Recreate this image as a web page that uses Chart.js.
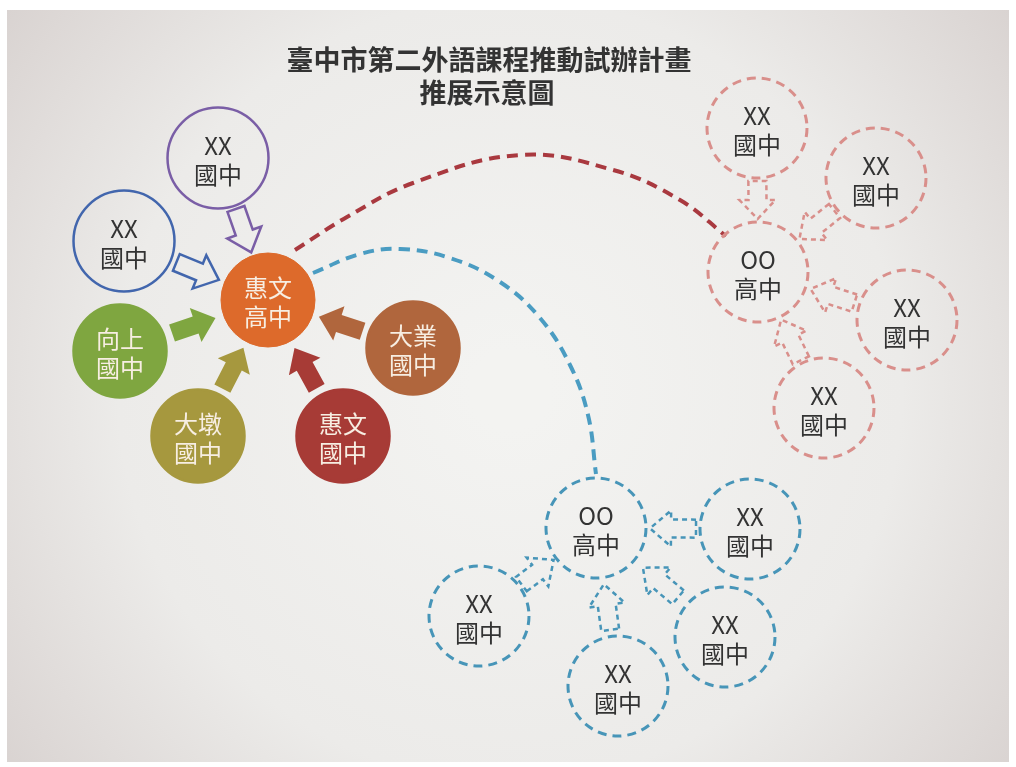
<!DOCTYPE html>
<html>
<head>
<meta charset="utf-8">
<script src="https://cdn.jsdelivr.net/npm/chart.js@4.4.1/dist/chart.umd.min.js"></script>
<style>
  html, body { margin: 0; padding: 0; background: #fff; }
  #wrap { width: 1016px; height: 767px; position: relative; }
</style>
</head>
<body>
<div id="wrap"><canvas id="chart"></canvas></div>
<script>
const titleLines = ['臺中市第二外語課程推動試辦計畫', '推展示意圖'];

// 惠文高中 and the junior highs around it
const hubLabels = [['惠文', '高中']];
const hubX = [268];
const hubY = [300];
const partnerLabels = [['XX', '國中'], ['XX', '國中'], ['向上', '國中'], ['大墩', '國中'], ['惠文', '國中'], ['大業', '國中']];
const partnerX = [218, 124, 120, 198, 343, 413];
const partnerY = [158, 241, 351, 436, 436, 348];

// right group (first entry is the OO high school)
const redLabels = [['OO', '高中'], ['XX', '國中'], ['XX', '國中'], ['XX', '國中'], ['XX', '國中']];
const redX = [758, 757, 876, 907, 824];
const redY = [272, 128, 178, 320, 408];

// bottom group (first entry is the OO high school)
const blueLabels = [['OO', '高中'], ['XX', '國中'], ['XX', '國中'], ['XX', '國中'], ['XX', '國中']];
const blueX = [596, 750, 725, 618, 479];
const blueY = [528, 529, 637, 686, 616];

// dashed links out of 惠文高中
const redLinkX = [295, 347, 413, 520, 613, 680, 726];
const redLinkY = [250, 217, 183, 155, 170, 200, 236];
const blueLinkX = [313, 360, 400, 450, 500, 540, 570, 588, 596];
const blueLinkY = [273, 254, 249, 258, 282, 318, 365, 415, 474];

const FONT = '"Noto Sans CJK TC", "Noto Sans", sans-serif';
const CLEAR = 'rgba(0,0,0,0)';
const partnerColors = ['#7a5ea6', '#4266ad', '#7fa640', '#a6983e', '#a73b36', '#b0663d'];
const partnerFilled = [false, false, true, true, true, true];
const pink = '#d98f8b';
const teal = '#4795b8';

const pts = (xs, ys) => xs.map((x, i) => ({ x, y: ys[i] }));

// background photo look
const paper = {
  id: 'paper',
  beforeDraw(chart) {
    const ctx = chart.ctx;
    ctx.save();
    ctx.fillStyle = '#fff';
    ctx.fillRect(0, 0, chart.width, chart.height);
    const g = ctx.createRadialGradient(510, 390, 40, 510, 390, 680);
    g.addColorStop(0, '#f3f3f1');
    g.addColorStop(0.55, '#ecebe9');
    g.addColorStop(1, '#d5cecc');
    ctx.fillStyle = g;
    ctx.fillRect(7, 10, 1002, 752);
    ctx.fillStyle = '#333';
    ctx.font = 'bold 27px ' + FONT;
    ctx.textAlign = 'center';
    ctx.textBaseline = 'middle';
    ctx.fillText(titleLines[0], 489, 60);
    ctx.fillText(titleLines[1], 487, 93);
    ctx.restore();
  }
};

// dashed circle outlines
const dashes = {
  id: 'dashes',
  beforeDatasetDraw(chart, args) {
    chart.ctx.save();
    chart.ctx.setLineDash(args.meta._dataset.dash || []);
  },
  afterDatasetDraw(chart) {
    chart.ctx.restore();
  }
};

function blockArrow(ctx, x0, y0, x1, y1) {
  const dx = x1 - x0, dy = y1 - y0, len = Math.hypot(dx, dy);
  const ux = dx / len, uy = dy / len, nx = -uy, ny = ux;
  const hl = Math.min(21, len * 0.5), sw = 9, hw = 18;
  const bx = x1 - ux * hl, by = y1 - uy * hl;
  ctx.beginPath();
  ctx.moveTo(x0 + nx * sw, y0 + ny * sw);
  ctx.lineTo(bx + nx * sw, by + ny * sw);
  ctx.lineTo(bx + nx * hw, by + ny * hw);
  ctx.lineTo(x1, y1);
  ctx.lineTo(bx - nx * hw, by - ny * hw);
  ctx.lineTo(bx - nx * sw, by - ny * sw);
  ctx.lineTo(x0 - nx * sw, y0 - ny * sw);
  ctx.closePath();
}

// arrows from every school into its high school, placed in the gap between circles
const arrows = {
  id: 'arrows',
  afterDatasetsDraw(chart) {
    const ctx = chart.ctx;
    const links = [];
    const hub = chart.getDatasetMeta(0).data[0];
    chart.getDatasetMeta(1).data.forEach((p, i) => {
      links.push({ from: p, to: hub, color: partnerColors[i], fill: partnerFilled[i], dash: [] });
    });
    [[2, pink], [3, teal]].forEach(([di, col]) => {
      const els = chart.getDatasetMeta(di).data;
      els.slice(1).forEach(p => links.push({ from: p, to: els[0], color: col, fill: false, dash: [5, 4] }));
    });
    links.forEach(l => {
      const a = l.from, b = l.to;
      const rs = a.options.radius, rt = b.options.radius;
      const d = Math.hypot(b.x - a.x, b.y - a.y);
      const ux = (b.x - a.x) / d, uy = (b.y - a.y) / d;
      const gap = d - rs - rt;
      const L = Math.min(46, gap - 6);
      const m = rs + gap / 2;
      ctx.save();
      blockArrow(ctx, a.x + ux * (m - L / 2), a.y + uy * (m - L / 2), a.x + ux * (m + L / 2), a.y + uy * (m + L / 2));
      if (l.fill) {
        ctx.fillStyle = l.color;
        ctx.fill();
      } else {
        ctx.setLineDash(l.dash);
        ctx.lineJoin = 'miter';
        ctx.lineWidth = 2.5;
        ctx.strokeStyle = l.color;
        ctx.stroke();
      }
      ctx.restore();
    });
  }
};

// two-line school names
const names = {
  id: 'names',
  afterDatasetsDraw(chart) {
    const ctx = chart.ctx;
    ctx.save();
    ctx.font = '24px ' + FONT;
    ctx.textAlign = 'center';
    ctx.textBaseline = 'middle';
    chart.data.datasets.forEach((ds, di) => {
      if (!ds.labels) return;
      chart.getDatasetMeta(di).data.forEach((p, i) => {
        ctx.fillStyle = ds.textColor[i];
        ctx.fillText(ds.labels[i][0], p.x, p.y - 12);
        ctx.fillText(ds.labels[i][1], p.x, p.y + 17);
      });
    });
    ctx.restore();
  }
};

new Chart(document.getElementById('chart'), {
  type: 'bubble',
  data: {
    datasets: [
      {
        data: pts(hubX, hubY),
        labels: hubLabels,
        textColor: ['#f7eee2'],
        backgroundColor: '#dd6a2b',
        borderColor: '#dd6a2b',
        borderWidth: 1,
        radius: 47
      },
      {
        data: pts(partnerX, partnerY),
        labels: partnerLabels,
        textColor: partnerFilled.map(f => f ? '#f7eee2' : '#333'),
        backgroundColor: partnerFilled.map((f, i) => f ? partnerColors[i] : CLEAR),
        borderColor: partnerColors,
        borderWidth: 2.5,
        radius: c => partnerFilled[c.dataIndex] ? 46.5 : 50.5
      },
      {
        data: pts(redX, redY),
        labels: redLabels,
        textColor: redLabels.map(() => '#333'),
        backgroundColor: CLEAR,
        borderColor: pink,
        borderWidth: 3,
        radius: 50,
        dash: [9, 6]
      },
      {
        data: pts(blueX, blueY),
        labels: blueLabels,
        textColor: blueLabels.map(() => '#333'),
        backgroundColor: CLEAR,
        borderColor: teal,
        borderWidth: 3,
        radius: 50,
        dash: [9, 6]
      },
      {
        type: 'line',
        data: pts(redLinkX, redLinkY),
        borderColor: '#a9393f',
        borderWidth: 4,
        borderDash: [11, 7],
        pointRadius: 0,
        tension: 0.4,
        fill: false,
        order: 5
      },
      {
        type: 'line',
        data: pts(blueLinkX, blueLinkY),
        borderColor: '#4a9cc2',
        borderWidth: 4,
        borderDash: [11, 7],
        pointRadius: 0,
        tension: 0.4,
        fill: false,
        order: 5
      }
    ]
  },
  options: {
    responsive: true,
    maintainAspectRatio: false,
    animation: false,
    events: [],
    layout: { padding: 0, autoPadding: false },
    clip: false,
    plugins: { legend: { display: false }, tooltip: { enabled: false } },
    scales: {
      x: { type: 'linear', min: 0, max: 1016, display: false },
      y: { type: 'linear', min: 0, max: 767, reverse: true, display: false }
    }
  },
  plugins: [paper, dashes, arrows, names]
});
</script>
</body>
</html>
